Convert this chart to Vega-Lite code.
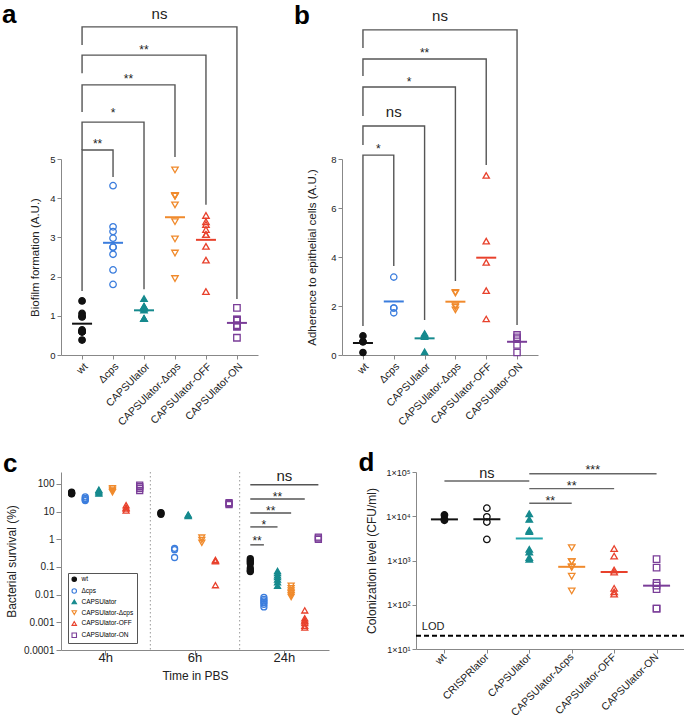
{
"$schema": "https://vega.github.io/schema/vega-lite/v6.json",
"padding": {"left": 2, "top": 1, "right": 0, "bottom": 0},
"config": {
  "font": "Liberation Sans",
  "view": {"stroke": null},
  "axis": {"grid": false, "domainColor": "#888", "tickColor": "#888", "labelColor": "#222", "titleColor": "#222", "titleFontWeight": "normal", "labelFont": "Liberation Sans", "titleFont": "Liberation Sans"},
  "text": {"font": "Liberation Sans"}
},
"datasets": {
  "a_pts": [
    {"g":"wt","v":1.38},{"g":"wt","v":1.06},{"g":"wt","v":0.99},{"g":"wt","v":0.97},{"g":"wt","v":0.64},{"g":"wt","v":0.59},{"g":"wt","v":0.59},{"g":"wt","v":0.59},{"g":"wt","v":0.38},
    {"g":"Δcps","v":4.32},{"g":"Δcps","v":3.27},{"g":"Δcps","v":3.15},{"g":"Δcps","v":2.98},{"g":"Δcps","v":2.75},{"g":"Δcps","v":2.75},{"g":"Δcps","v":2.57},{"g":"Δcps","v":2.17},{"g":"Δcps","v":1.8},
    {"g":"CAPSUlator","v":1.44},{"g":"CAPSUlator","v":1.24},{"g":"CAPSUlator","v":1.24},{"g":"CAPSUlator","v":1.2},{"g":"CAPSUlator","v":1.2},{"g":"CAPSUlator","v":1.15},{"g":"CAPSUlator","v":0.93},{"g":"CAPSUlator","v":0.93},{"g":"CAPSUlator","v":0.93},
    {"g":"CAPSUlator-Δcps","v":4.72},{"g":"CAPSUlator-Δcps","v":4.07},{"g":"CAPSUlator-Δcps","v":4.05},{"g":"CAPSUlator-Δcps","v":4.05},{"g":"CAPSUlator-Δcps","v":3.83},{"g":"CAPSUlator-Δcps","v":3.4},{"g":"CAPSUlator-Δcps","v":2.96},{"g":"CAPSUlator-Δcps","v":2.6},{"g":"CAPSUlator-Δcps","v":1.95},
    {"g":"CAPSUlator-OFF","v":3.56},{"g":"CAPSUlator-OFF","v":3.4},{"g":"CAPSUlator-OFF","v":3.33},{"g":"CAPSUlator-OFF","v":3.2},{"g":"CAPSUlator-OFF","v":3.07},{"g":"CAPSUlator-OFF","v":3.07},{"g":"CAPSUlator-OFF","v":2.77},{"g":"CAPSUlator-OFF","v":2.42},{"g":"CAPSUlator-OFF","v":1.62},
    {"g":"CAPSUlator-ON","v":1.2},{"g":"CAPSUlator-ON","v":0.91},{"g":"CAPSUlator-ON","v":0.9},{"g":"CAPSUlator-ON","v":0.88},{"g":"CAPSUlator-ON","v":0.76},{"g":"CAPSUlator-ON","v":0.74},{"g":"CAPSUlator-ON","v":0.72},{"g":"CAPSUlator-ON","v":0.44}
  ],
  "a_br": [
    {"c":1,"g":"wt","v":1.63,"k":1},{"c":1,"g":"wt","v":5.23,"k":2},{"c":1,"g":"Δcps","v":5.23,"k":3},{"c":1,"g":"Δcps","v":4.54,"k":4},
    {"c":2,"g":"wt","v":5.23,"k":1},{"c":2,"g":"wt","v":5.94,"k":2},{"c":2,"g":"CAPSUlator","v":5.94,"k":3},{"c":2,"g":"CAPSUlator","v":1.68,"k":4},
    {"c":3,"g":"wt","v":6.2,"k":1},{"c":3,"g":"wt","v":6.89,"k":2},{"c":3,"g":"CAPSUlator-Δcps","v":6.89,"k":3},{"c":3,"g":"CAPSUlator-Δcps","v":5.05,"k":4},
    {"c":4,"g":"wt","v":7.19,"k":1},{"c":4,"g":"wt","v":7.65,"k":2},{"c":4,"g":"CAPSUlator-OFF","v":7.65,"k":3},{"c":4,"g":"CAPSUlator-OFF","v":3.83,"k":4},
    {"c":5,"g":"wt","v":7.91,"k":1},{"c":5,"g":"wt","v":8.37,"k":2},{"c":5,"g":"CAPSUlator-ON","v":8.37,"k":3},{"c":5,"g":"CAPSUlator-ON","v":1.43,"k":4}
  ],
  "a_tx_half": [
    {"g":"wt","lab":"**","v":5.46},{"g":"Δcps","lab":"**","v":7.14},{"g":"CAPSUlator","lab":"ns","v":8.7}
  ],
  "a_tx_on": [
    {"g":"Δcps","lab":"*","v":6.25},{"g":"CAPSUlator","lab":"**","v":7.88}
  ],
  "b_pts": [
    {"g":"wt","v":0.78},{"g":"wt","v":0.54},{"g":"wt","v":0.54},{"g":"wt","v":0.1},
    {"g":"Δcps","v":3.18},{"g":"Δcps","v":1.92},{"g":"Δcps","v":1.92},{"g":"Δcps","v":1.72},
    {"g":"CAPSUlator","v":0.88},{"g":"CAPSUlator","v":0.82},{"g":"CAPSUlator","v":0.82},{"g":"CAPSUlator","v":0.75},{"g":"CAPSUlator","v":0.13},
    {"g":"CAPSUlator-Δcps","v":2.56},{"g":"CAPSUlator-Δcps","v":2.52},{"g":"CAPSUlator-Δcps","v":2.01},{"g":"CAPSUlator-Δcps","v":1.95},{"g":"CAPSUlator-Δcps","v":1.84},
    {"g":"CAPSUlator-OFF","v":7.33},{"g":"CAPSUlator-OFF","v":4.65},{"g":"CAPSUlator-OFF","v":3.78},{"g":"CAPSUlator-OFF","v":2.63},{"g":"CAPSUlator-OFF","v":1.47},
    {"g":"CAPSUlator-ON","v":0.82},{"g":"CAPSUlator-ON","v":0.72},{"g":"CAPSUlator-ON","v":0.65},{"g":"CAPSUlator-ON","v":0.41},{"g":"CAPSUlator-ON","v":0.1}
  ],
  "b_br": [
    {"c":1,"g":"wt","v":1.18,"k":1},{"c":1,"g":"wt","v":8.16,"k":2},{"c":1,"g":"Δcps","v":8.16,"k":3},{"c":1,"g":"Δcps","v":3.63,"k":4},
    {"c":2,"g":"wt","v":8.57,"k":1},{"c":2,"g":"wt","v":9.35,"k":2},{"c":2,"g":"CAPSUlator","v":9.35,"k":3},{"c":2,"g":"CAPSUlator","v":1.43,"k":4},
    {"c":3,"g":"wt","v":9.76,"k":1},{"c":3,"g":"wt","v":10.94,"k":2},{"c":3,"g":"CAPSUlator-Δcps","v":10.94,"k":3},{"c":3,"g":"CAPSUlator-Δcps","v":3.02,"k":4},
    {"c":4,"g":"wt","v":11.39,"k":1},{"c":4,"g":"wt","v":12.08,"k":2},{"c":4,"g":"CAPSUlator-OFF","v":12.08,"k":3},{"c":4,"g":"CAPSUlator-OFF","v":7.76,"k":4},
    {"c":5,"g":"wt","v":12.53,"k":1},{"c":5,"g":"wt","v":13.27,"k":2},{"c":5,"g":"CAPSUlator-ON","v":13.27,"k":3},{"c":5,"g":"CAPSUlator-ON","v":1.22,"k":4}
  ],
  "b_tx_half": [
    {"g":"wt","lab":"*","v":8.53},{"g":"Δcps","lab":"*","v":11.27},{"g":"CAPSUlator","lab":"ns","v":13.84}
  ],
  "b_tx_on": [
    {"g":"Δcps","lab":"ns","v":9.92},{"g":"CAPSUlator","lab":"**","v":12.45}
  ],
  "c_pts": [
    {"t":"4h","g":"wt","v":50},{"t":"4h","g":"wt","v":47},{"t":"4h","g":"wt","v":45},{"t":"4h","g":"wt","v":44},
    {"t":"4h","g":"Δcps","v":34},{"t":"4h","g":"Δcps","v":30},{"t":"4h","g":"Δcps","v":27},{"t":"4h","g":"Δcps","v":25},
    {"t":"4h","g":"CAPSUlator","v":62},{"t":"4h","g":"CAPSUlator","v":55},{"t":"4h","g":"CAPSUlator","v":50},{"t":"4h","g":"CAPSUlator","v":45},
    {"t":"4h","g":"CAPSUlator-Δcps","v":70},{"t":"4h","g":"CAPSUlator-Δcps","v":62},{"t":"4h","g":"CAPSUlator-Δcps","v":56},{"t":"4h","g":"CAPSUlator-Δcps","v":50},
    {"t":"4h","g":"CAPSUlator-OFF","v":17},{"t":"4h","g":"CAPSUlator-OFF","v":14},{"t":"4h","g":"CAPSUlator-OFF","v":13},{"t":"4h","g":"CAPSUlator-OFF","v":11},
    {"t":"4h","g":"CAPSUlator-ON","v":90},{"t":"4h","g":"CAPSUlator-ON","v":80},{"t":"4h","g":"CAPSUlator-ON","v":70},{"t":"4h","g":"CAPSUlator-ON","v":58},
    {"t":"6h","g":"wt","v":9.2},{"t":"6h","g":"wt","v":8.6},{"t":"6h","g":"wt","v":8.0},
    {"t":"6h","g":"Δcps","v":0.47},{"t":"6h","g":"Δcps","v":0.42},{"t":"6h","g":"Δcps","v":0.22},
    {"t":"6h","g":"CAPSUlator","v":7.8},{"t":"6h","g":"CAPSUlator","v":7.4},{"t":"6h","g":"CAPSUlator","v":7.0},
    {"t":"6h","g":"CAPSUlator-Δcps","v":1.15},{"t":"6h","g":"CAPSUlator-Δcps","v":0.95},{"t":"6h","g":"CAPSUlator-Δcps","v":0.75},
    {"t":"6h","g":"CAPSUlator-OFF","v":0.18},{"t":"6h","g":"CAPSUlator-OFF","v":0.17},{"t":"6h","g":"CAPSUlator-OFF","v":0.16},{"t":"6h","g":"CAPSUlator-OFF","v":0.022},
    {"t":"6h","g":"CAPSUlator-ON","v":21},{"t":"6h","g":"CAPSUlator-ON","v":19.5},{"t":"6h","g":"CAPSUlator-ON","v":18},
    {"t":"24h","g":"wt","v":0.2},{"t":"24h","g":"wt","v":0.17},{"t":"24h","g":"wt","v":0.15},{"t":"24h","g":"wt","v":0.13},{"t":"24h","g":"wt","v":0.09},{"t":"24h","g":"wt","v":0.075},{"t":"24h","g":"wt","v":0.068},
    {"t":"24h","g":"Δcps","v":0.008},{"t":"24h","g":"Δcps","v":0.0068},{"t":"24h","g":"Δcps","v":0.006},{"t":"24h","g":"Δcps","v":0.0052},{"t":"24h","g":"Δcps","v":0.0045},{"t":"24h","g":"Δcps","v":0.0036},
    {"t":"24h","g":"CAPSUlator","v":0.072},{"t":"24h","g":"CAPSUlator","v":0.06},{"t":"24h","g":"CAPSUlator","v":0.05},{"t":"24h","g":"CAPSUlator","v":0.043},{"t":"24h","g":"CAPSUlator","v":0.035},{"t":"24h","g":"CAPSUlator","v":0.028},{"t":"24h","g":"CAPSUlator","v":0.021},
    {"t":"24h","g":"CAPSUlator-Δcps","v":0.021},{"t":"24h","g":"CAPSUlator-Δcps","v":0.017},{"t":"24h","g":"CAPSUlator-Δcps","v":0.014},{"t":"24h","g":"CAPSUlator-Δcps","v":0.012},{"t":"24h","g":"CAPSUlator-Δcps","v":0.011},{"t":"24h","g":"CAPSUlator-Δcps","v":0.0095},{"t":"24h","g":"CAPSUlator-Δcps","v":0.0082},
    {"t":"24h","g":"CAPSUlator-OFF","v":0.0027},{"t":"24h","g":"CAPSUlator-OFF","v":0.0014},{"t":"24h","g":"CAPSUlator-OFF","v":0.0012},{"t":"24h","g":"CAPSUlator-OFF","v":0.0011},{"t":"24h","g":"CAPSUlator-OFF","v":0.00095},{"t":"24h","g":"CAPSUlator-OFF","v":0.00075},{"t":"24h","g":"CAPSUlator-OFF","v":0.00065},
    {"t":"24h","g":"CAPSUlator-ON","v":1.2},{"t":"24h","g":"CAPSUlator-ON","v":1.1},{"t":"24h","g":"CAPSUlator-ON","v":1.0}
  ],
  "c_sep": [{"t":"4h"},{"t":"6h"}],
  "c_ln": [
    {"c":1,"t":"24h","g":"wt","v":93,"k":1},{"c":1,"t":"24h","g":"CAPSUlator-ON","v":93,"k":2},
    {"c":2,"t":"24h","g":"wt","v":28.5,"k":1},{"c":2,"t":"24h","g":"CAPSUlator-OFF","v":28.5,"k":2},
    {"c":3,"t":"24h","g":"wt","v":8.9,"k":1},{"c":3,"t":"24h","g":"CAPSUlator-Δcps","v":8.9,"k":2},
    {"c":4,"t":"24h","g":"wt","v":2.8,"k":1},{"c":4,"t":"24h","g":"CAPSUlator","v":2.8,"k":2},
    {"c":5,"t":"24h","g":"wt","v":0.63,"k":1},{"c":5,"t":"24h","g":"Δcps","v":0.63,"k":2}
  ],
  "c_tx_half": [
    {"t":"24h","g":"CAPSUlator","lab":"ns","v":193},{"t":"24h","g":"Δcps","lab":"**","v":13.5},{"t":"24h","g":"wt","lab":"**","v":1.14}
  ],
  "c_tx_on": [
    {"t":"24h","g":"CAPSUlator","lab":"**","v":43.2},{"t":"24h","g":"Δcps","lab":"*","v":4.2}
  ],
  "d_pts": [
    {"g":"wt","v":10700},{"g":"wt","v":8500},{"g":"wt","v":8100},
    {"g":"CRISPRlator","v":15200},{"g":"CRISPRlator","v":9700},{"g":"CRISPRlator","v":7400},{"g":"CRISPRlator","v":3000},
    {"g":"CAPSUlator","v":11400},{"g":"CAPSUlator","v":8500},{"g":"CAPSUlator","v":4800},{"g":"CAPSUlator","v":4500},{"g":"CAPSUlator","v":1790},{"g":"CAPSUlator","v":1560},{"g":"CAPSUlator","v":1170},{"g":"CAPSUlator","v":1070},
    {"g":"CAPSUlator-Δcps","v":1950},{"g":"CAPSUlator-Δcps","v":940},{"g":"CAPSUlator-Δcps","v":940},{"g":"CAPSUlator-Δcps","v":720},{"g":"CAPSUlator-Δcps","v":700},{"g":"CAPSUlator-Δcps","v":440},{"g":"CAPSUlator-Δcps","v":205},
    {"g":"CAPSUlator-OFF","v":1860},{"g":"CAPSUlator-OFF","v":1260},{"g":"CAPSUlator-OFF","v":610},{"g":"CAPSUlator-OFF","v":550},{"g":"CAPSUlator-OFF","v":235},{"g":"CAPSUlator-OFF","v":195},{"g":"CAPSUlator-OFF","v":175},
    {"g":"CAPSUlator-ON","v":1070},{"g":"CAPSUlator-ON","v":690},{"g":"CAPSUlator-ON","v":310},{"g":"CAPSUlator-ON","v":270},{"g":"CAPSUlator-ON","v":225},{"g":"CAPSUlator-ON","v":82},{"g":"CAPSUlator-ON","v":82}
  ],
  "d_rl": [
    {"g":"wt","g2":"CAPSUlator","v":62700},
    {"g":"CAPSUlator","g2":"CAPSUlator-ON","v":91500},
    {"g":"CAPSUlator","g2":"CAPSUlator-OFF","v":42000},
    {"g":"CAPSUlator","g2":"CAPSUlator-Δcps","v":19600}
  ],
  "d_tx_on": [
    {"g":"CRISPRlator","lab":"ns","v":90100},{"g":"CAPSUlator-Δcps","lab":"**","v":56400}
  ],
  "d_tx_half": [
    {"g":"CAPSUlator-Δcps","lab":"***","v":130000},{"g":"CAPSUlator","lab":"**","v":25800}
  ]
},
"spacing": 22,
"resolve": {"scale": {"x": "independent", "y": "independent", "color": "independent", "fill": "independent", "stroke": "independent", "shape": "independent"}},
"vconcat": [
 {
  "spacing": 35,
  "resolve": {"scale": {"x": "independent", "y": "independent", "color": "independent", "fill": "independent", "stroke": "independent", "shape": "independent"}},
  "hconcat": [
   {
    "width": 197, "height": 196,
    "encoding": {
      "x": {"field": "g", "type": "nominal", "scale": {"type": "point", "domain": ["wt","Δcps","CAPSUlator","CAPSUlator-Δcps","CAPSUlator-OFF","CAPSUlator-ON"], "padding": 0.68}, "axis": {"title": null, "labelAngle": -45, "labelFontSize": 10.5, "tickSize": 4, "labelPadding": 2}},
      "y": {"field": "v", "type": "quantitative", "scale": {"domain": [0, 5], "nice": false}, "axis": {"values": [0,1,2,3,4,5], "title": "Biofilm formation (A.U.)", "titleFontSize": 11.5, "labelFontSize": 9.5, "tickSize": 4, "titlePadding": 9}}
    },
    "layer": [
      {"data": {"name": "a_br"}, "mark": {"type": "line", "color": "#555", "strokeWidth": 1.4}, "encoding": {"detail": {"field": "c", "type": "nominal"}, "order": {"field": "k", "type": "quantitative"}}},
      {"data": {"name": "a_tx_half"}, "transform": [{"filter": "datum.lab != 'ns'"}], "mark": {"type": "text", "dx": 15.5, "dy": 3.4, "baseline": "middle", "fontSize": 12, "color": "#222"}, "encoding": {"text": {"field": "lab", "type": "nominal"}}},
      {"data": {"name": "a_tx_half"}, "transform": [{"filter": "datum.lab == 'ns'"}], "mark": {"type": "text", "dx": 15.5, "baseline": "middle", "fontSize": 15, "color": "#222"}, "encoding": {"text": {"field": "lab", "type": "nominal"}}},
      {"data": {"name": "a_tx_on"}, "transform": [{"filter": "datum.lab != 'ns'"}], "mark": {"type": "text", "dy": 3.4, "baseline": "middle", "fontSize": 12, "color": "#222"}, "encoding": {"text": {"field": "lab", "type": "nominal"}}},
      {"data": {"values": [{"g": "wt", "v": 8.47, "lab": "a"}]}, "mark": {"type": "text", "align": "left", "baseline": "alphabetic", "dx": -80, "fontSize": 26, "fontWeight": "bold", "color": "#000"}, "encoding": {"text": {"field": "lab", "type": "nominal"}}},
      {"data": {"name": "a_pts"}, "mark": {"type": "point", "size": 42, "strokeWidth": 1.3, "opacity": 1},
       "encoding": {
         "stroke": {"field": "g", "type": "nominal", "scale": {"domain": ["wt","Δcps","CAPSUlator","CAPSUlator-Δcps","CAPSUlator-OFF","CAPSUlator-ON"], "range": ["#111111","#3b7ddd","#168a8e","#f08a2c","#e8412c","#7a3d98"]}, "legend": null},
         "fill": {"field": "g", "type": "nominal", "scale": {"domain": ["wt","Δcps","CAPSUlator","CAPSUlator-Δcps","CAPSUlator-OFF","CAPSUlator-ON"], "range": ["#111111","transparent","#168a8e","transparent","transparent","transparent"]}, "legend": null},
         "shape": {"field": "g", "type": "nominal", "scale": {"domain": ["wt","Δcps","CAPSUlator","CAPSUlator-Δcps","CAPSUlator-OFF","CAPSUlator-ON"], "range": ["circle","circle","triangle-up","triangle-down","triangle-up","square"]}, "legend": null}
       }},
      {"data": {"name": "a_pts"}, "mark": {"type": "tick", "thickness": 2, "size": 20},
       "encoding": {
         "y": {"aggregate": "mean", "field": "v", "type": "quantitative", "title": "Biofilm formation (A.U.)"},
         "color": {"field": "g", "type": "nominal", "scale": {"domain": ["wt","Δcps","CAPSUlator","CAPSUlator-Δcps","CAPSUlator-OFF","CAPSUlator-ON"], "range": ["#111111","#3b7ddd","#168a8e","#f08a2c","#e8412c","#7a3d98"]}, "legend": null}
       }}
    ]
   },
   {
    "width": 196, "height": 196,
    "encoding": {
      "x": {"field": "g", "type": "nominal", "scale": {"type": "point", "domain": ["wt","Δcps","CAPSUlator","CAPSUlator-Δcps","CAPSUlator-OFF","CAPSUlator-ON"], "padding": 0.68}, "axis": {"title": null, "labelAngle": -45, "labelFontSize": 10.5, "tickSize": 4, "labelPadding": 2}},
      "y": {"field": "v", "type": "quantitative", "scale": {"domain": [0, 8], "nice": false}, "axis": {"values": [0,2,4,6,8], "title": "Adherence to epithelial cells (A.U.)", "titleFontSize": 11.5, "labelFontSize": 9.5, "tickSize": 4, "titlePadding": 13}}
    },
    "layer": [
      {"data": {"name": "b_br"}, "mark": {"type": "line", "color": "#555", "strokeWidth": 1.4}, "encoding": {"detail": {"field": "c", "type": "nominal"}, "order": {"field": "k", "type": "quantitative"}}},
      {"data": {"name": "b_tx_half"}, "transform": [{"filter": "datum.lab != 'ns'"}], "mark": {"type": "text", "dx": 15.4, "dy": 3.4, "baseline": "middle", "fontSize": 12, "color": "#222"}, "encoding": {"text": {"field": "lab", "type": "nominal"}}},
      {"data": {"name": "b_tx_half"}, "transform": [{"filter": "datum.lab == 'ns'"}], "mark": {"type": "text", "dx": 15.4, "baseline": "middle", "fontSize": 15, "color": "#222"}, "encoding": {"text": {"field": "lab", "type": "nominal"}}},
      {"data": {"name": "b_tx_on"}, "transform": [{"filter": "datum.lab != 'ns'"}], "mark": {"type": "text", "dy": 3.4, "baseline": "middle", "fontSize": 12, "color": "#222"}, "encoding": {"text": {"field": "lab", "type": "nominal"}}},
      {"data": {"name": "b_tx_on"}, "transform": [{"filter": "datum.lab == 'ns'"}], "mark": {"type": "text", "baseline": "middle", "fontSize": 15, "color": "#222"}, "encoding": {"text": {"field": "lab", "type": "nominal"}}},
      {"data": {"values": [{"g": "wt", "v": 13.49, "lab": "b"}]}, "mark": {"type": "text", "align": "left", "baseline": "alphabetic", "dx": -69, "fontSize": 26, "fontWeight": "bold", "color": "#000"}, "encoding": {"text": {"field": "lab", "type": "nominal"}}},
      {"data": {"name": "b_pts"}, "mark": {"type": "point", "size": 40, "strokeWidth": 1.3, "opacity": 1},
       "encoding": {
         "stroke": {"field": "g", "type": "nominal", "scale": {"domain": ["wt","Δcps","CAPSUlator","CAPSUlator-Δcps","CAPSUlator-OFF","CAPSUlator-ON"], "range": ["#111111","#3b7ddd","#168a8e","#f08a2c","#e8412c","#7a3d98"]}, "legend": null},
         "fill": {"field": "g", "type": "nominal", "scale": {"domain": ["wt","Δcps","CAPSUlator","CAPSUlator-Δcps","CAPSUlator-OFF","CAPSUlator-ON"], "range": ["#111111","transparent","#168a8e","transparent","transparent","transparent"]}, "legend": null},
         "shape": {"field": "g", "type": "nominal", "scale": {"domain": ["wt","Δcps","CAPSUlator","CAPSUlator-Δcps","CAPSUlator-OFF","CAPSUlator-ON"], "range": ["circle","circle","triangle-up","triangle-down","triangle-up","square"]}, "legend": null}
       }},
      {"data": {"name": "b_pts"}, "mark": {"type": "tick", "thickness": 2, "size": 20},
       "encoding": {
         "y": {"aggregate": "mean", "field": "v", "type": "quantitative", "title": "Adherence to epithelial cells (A.U.)"},
         "color": {"field": "g", "type": "nominal", "scale": {"domain": ["wt","Δcps","CAPSUlator","CAPSUlator-Δcps","CAPSUlator-OFF","CAPSUlator-ON"], "range": ["#111111","#3b7ddd","#168a8e","#f08a2c","#e8412c","#7a3d98"]}, "legend": null}
       }}
    ]
   }
  ]
 },
 {
  "spacing": 29,
  "resolve": {"scale": {"x": "independent", "y": "independent", "color": "independent", "fill": "independent", "stroke": "independent", "shape": "independent"}},
  "hconcat": [
   {
    "width": 268, "height": 178,
    "layer": [
      {"data": {"name": "c_sep"}, "mark": {"type": "rule", "strokeDash": [1.5, 2.5], "color": "#999", "strokeWidth": 1},
       "encoding": {"x": {"field": "t", "type": "nominal", "bandPosition": 1, "scale": {"type": "band", "domain": ["4h","6h","24h"], "paddingInner": 0, "paddingOuter": 0}}}},
      {"data": {"name": "c_ln"}, "mark": {"type": "line", "color": "#555", "strokeWidth": 1.4},
       "encoding": {
         "x": {"field": "t", "type": "nominal", "scale": {"type": "band", "domain": ["4h","6h","24h"], "paddingInner": 0, "paddingOuter": 0}},
         "xOffset": {"field": "g", "type": "nominal", "scale": {"type": "point", "domain": ["wt","Δcps","CAPSUlator","CAPSUlator-Δcps","CAPSUlator-OFF","CAPSUlator-ON"], "padding": 0.78}},
         "y": {"field": "v", "type": "quantitative", "scale": {"type": "log", "domain": [0.0001, 270], "nice": false}},
         "detail": {"field": "c", "type": "nominal"}, "order": {"field": "k", "type": "quantitative"}}},
      {"data": {"name": "c_tx_half"}, "transform": [{"filter": "datum.lab != 'ns'"}], "mark": {"type": "text", "dx": 6.8, "dy": 3.4, "baseline": "middle", "fontSize": 12, "color": "#222"},
       "encoding": {
         "x": {"field": "t", "type": "nominal", "scale": {"type": "band", "domain": ["4h","6h","24h"], "paddingInner": 0, "paddingOuter": 0}},
         "xOffset": {"field": "g", "type": "nominal", "scale": {"type": "point", "domain": ["wt","Δcps","CAPSUlator","CAPSUlator-Δcps","CAPSUlator-OFF","CAPSUlator-ON"], "padding": 0.78}},
         "y": {"field": "v", "type": "quantitative", "scale": {"type": "log", "domain": [0.0001, 270], "nice": false}},
         "text": {"field": "lab", "type": "nominal"}}},
      {"data": {"name": "c_tx_half"}, "transform": [{"filter": "datum.lab == 'ns'"}], "mark": {"type": "text", "dx": 6.8, "baseline": "middle", "fontSize": 15, "color": "#222"},
       "encoding": {
         "x": {"field": "t", "type": "nominal", "scale": {"type": "band", "domain": ["4h","6h","24h"], "paddingInner": 0, "paddingOuter": 0}},
         "xOffset": {"field": "g", "type": "nominal", "scale": {"type": "point", "domain": ["wt","Δcps","CAPSUlator","CAPSUlator-Δcps","CAPSUlator-OFF","CAPSUlator-ON"], "padding": 0.78}},
         "y": {"field": "v", "type": "quantitative", "scale": {"type": "log", "domain": [0.0001, 270], "nice": false}},
         "text": {"field": "lab", "type": "nominal"}}},
      {"data": {"name": "c_tx_on"}, "mark": {"type": "text", "dy": 3.4, "baseline": "middle", "fontSize": 12, "color": "#222"},
       "encoding": {
         "x": {"field": "t", "type": "nominal", "scale": {"type": "band", "domain": ["4h","6h","24h"], "paddingInner": 0, "paddingOuter": 0}},
         "xOffset": {"field": "g", "type": "nominal", "scale": {"type": "point", "domain": ["wt","Δcps","CAPSUlator","CAPSUlator-Δcps","CAPSUlator-OFF","CAPSUlator-ON"], "padding": 0.78}},
         "y": {"field": "v", "type": "quantitative", "scale": {"type": "log", "domain": [0.0001, 270], "nice": false}},
         "text": {"field": "lab", "type": "nominal"}}},
      {"data": {"values": [{"t": "4h", "v": 270, "lab": "c"}]}, "mark": {"type": "text", "align": "left", "baseline": "alphabetic", "dx": -102.7, "fontSize": 26, "fontWeight": "bold", "color": "#000"},
       "encoding": {
         "x": {"field": "t", "type": "nominal", "scale": {"type": "band", "domain": ["4h","6h","24h"], "paddingInner": 0, "paddingOuter": 0}},
         "y": {"field": "v", "type": "quantitative", "scale": {"type": "log", "domain": [0.0001, 270], "nice": false}},
         "text": {"field": "lab", "type": "nominal"}}},
      {"data": {"name": "c_pts"}, "mark": {"type": "point", "size": 36, "strokeWidth": 1.3, "opacity": 1},
       "encoding": {
         "x": {"field": "t", "type": "nominal", "scale": {"type": "band", "domain": ["4h","6h","24h"], "paddingInner": 0, "paddingOuter": 0}, "axis": {"title": "Time in PBS", "labelAngle": 0, "labelAlign": "center", "bandPosition": 0.5, "labelFontSize": 13, "titleFontSize": 12, "tickSize": 5, "titlePadding": 6}},
         "xOffset": {"field": "g", "type": "nominal", "scale": {"type": "point", "domain": ["wt","Δcps","CAPSUlator","CAPSUlator-Δcps","CAPSUlator-OFF","CAPSUlator-ON"], "padding": 0.78}},
         "y": {"field": "v", "type": "quantitative", "scale": {"type": "log", "domain": [0.0001, 270], "nice": false}, "axis": {"values": [0.0001,0.001,0.01,0.1,1,10,100], "format": ".4~f", "title": "Bacterial survival (%)", "labelFontSize": 10, "titleFontSize": 12, "tickSize": 5, "titlePadding": 5}},
         "stroke": {"field": "g", "type": "nominal", "scale": {"domain": ["wt","Δcps","CAPSUlator","CAPSUlator-Δcps","CAPSUlator-OFF","CAPSUlator-ON"], "range": ["#111111","#3b7ddd","#168a8e","#f08a2c","#e8412c","#7a3d98"]}, "legend": {"orient": "bottom-left", "offset": 7, "title": null, "strokeColor": "#555", "fillColor": "white", "padding": 3, "labelFontSize": 6.5, "symbolSize": 20, "rowPadding": 1.8, "symbolStrokeWidth": 1.1, "labelLimit": 200, "labelOffset": 4}},
         "fill": {"field": "g", "type": "nominal", "scale": {"domain": ["wt","Δcps","CAPSUlator","CAPSUlator-Δcps","CAPSUlator-OFF","CAPSUlator-ON"], "range": ["#111111","transparent","#168a8e","transparent","transparent","transparent"]}, "legend": {"orient": "bottom-left", "offset": 7, "title": null, "strokeColor": "#555", "fillColor": "white", "padding": 3, "labelFontSize": 6.5, "symbolSize": 20, "rowPadding": 1.8, "symbolStrokeWidth": 1.1, "labelLimit": 200, "labelOffset": 4}},
         "shape": {"field": "g", "type": "nominal", "scale": {"domain": ["wt","Δcps","CAPSUlator","CAPSUlator-Δcps","CAPSUlator-OFF","CAPSUlator-ON"], "range": ["circle","circle","triangle-up","triangle-down","triangle-up","square"]}, "legend": {"orient": "bottom-left", "offset": 7, "title": null, "strokeColor": "#555", "fillColor": "white", "padding": 3, "labelFontSize": 6.5, "symbolSize": 20, "rowPadding": 1.8, "symbolStrokeWidth": 1.1, "labelLimit": 200, "labelOffset": 4}}
       }}
    ]
   },
   {
    "width": 269, "height": 177,
    "layer": [
      {"data": {"name": "d_rl"}, "mark": {"type": "rule", "color": "#666", "strokeWidth": 1.4},
       "encoding": {
         "x": {"field": "g", "type": "nominal", "scale": {"type": "point", "domain": ["wt","CRISPRlator","CAPSUlator","CAPSUlator-Δcps","CAPSUlator-OFF","CAPSUlator-ON"], "padding": 0.67}},
         "x2": {"field": "g2"},
         "y": {"field": "v", "type": "quantitative", "scale": {"type": "log", "domain": [10, 100000], "nice": false}}}},
      {"data": {"values": [{"v": 20}]}, "mark": {"type": "rule", "strokeDash": [5, 3], "strokeWidth": 2, "color": "#000"},
       "encoding": {"y": {"field": "v", "type": "quantitative", "scale": {"type": "log", "domain": [10, 100000], "nice": false}}}},
      {"data": {"values": [{"g": "wt", "v": 31.9, "lab": "LOD"}]}, "mark": {"type": "text", "align": "right", "baseline": "middle", "fontSize": 11, "color": "#222"},
       "encoding": {
         "x": {"field": "g", "type": "nominal", "scale": {"type": "point", "domain": ["wt","CRISPRlator","CAPSUlator","CAPSUlator-Δcps","CAPSUlator-OFF","CAPSUlator-ON"], "padding": 0.67}},
         "y": {"field": "v", "type": "quantitative", "scale": {"type": "log", "domain": [10, 100000], "nice": false}},
         "text": {"field": "lab", "type": "nominal"}}},
      {"data": {"name": "d_tx_on"}, "transform": [{"filter": "datum.lab != 'ns'"}], "mark": {"type": "text", "dy": 3.4, "baseline": "middle", "fontSize": 12.5, "color": "#222"},
       "encoding": {
         "x": {"field": "g", "type": "nominal", "scale": {"type": "point", "domain": ["wt","CRISPRlator","CAPSUlator","CAPSUlator-Δcps","CAPSUlator-OFF","CAPSUlator-ON"], "padding": 0.67}},
         "y": {"field": "v", "type": "quantitative", "scale": {"type": "log", "domain": [10, 100000], "nice": false}},
         "text": {"field": "lab", "type": "nominal"}}},
      {"data": {"name": "d_tx_on"}, "transform": [{"filter": "datum.lab == 'ns'"}], "mark": {"type": "text", "baseline": "middle", "fontSize": 14.5, "color": "#222"},
       "encoding": {
         "x": {"field": "g", "type": "nominal", "scale": {"type": "point", "domain": ["wt","CRISPRlator","CAPSUlator","CAPSUlator-Δcps","CAPSUlator-OFF","CAPSUlator-ON"], "padding": 0.67}},
         "y": {"field": "v", "type": "quantitative", "scale": {"type": "log", "domain": [10, 100000], "nice": false}},
         "text": {"field": "lab", "type": "nominal"}}},
      {"data": {"name": "d_tx_half"}, "mark": {"type": "text", "dx": 21, "dy": 3.4, "baseline": "middle", "fontSize": 12.5, "color": "#222"},
       "encoding": {
         "x": {"field": "g", "type": "nominal", "scale": {"type": "point", "domain": ["wt","CRISPRlator","CAPSUlator","CAPSUlator-Δcps","CAPSUlator-OFF","CAPSUlator-ON"], "padding": 0.67}},
         "y": {"field": "v", "type": "quantitative", "scale": {"type": "log", "domain": [10, 100000], "nice": false}},
         "text": {"field": "lab", "type": "nominal"}}},
      {"data": {"values": [{"g": "wt", "v": 105000, "lab": "d"}]}, "mark": {"type": "text", "align": "left", "baseline": "alphabetic", "dx": -86, "fontSize": 26, "fontWeight": "bold", "color": "#000"},
       "encoding": {
         "x": {"field": "g", "type": "nominal", "scale": {"type": "point", "domain": ["wt","CRISPRlator","CAPSUlator","CAPSUlator-Δcps","CAPSUlator-OFF","CAPSUlator-ON"], "padding": 0.67}},
         "y": {"field": "v", "type": "quantitative", "scale": {"type": "log", "domain": [10, 100000], "nice": false}},
         "text": {"field": "lab", "type": "nominal"}}},
      {"data": {"name": "d_pts"}, "mark": {"type": "point", "size": 42, "strokeWidth": 1.3, "opacity": 1},
       "encoding": {
         "x": {"field": "g", "type": "nominal", "scale": {"type": "point", "domain": ["wt","CRISPRlator","CAPSUlator","CAPSUlator-Δcps","CAPSUlator-OFF","CAPSUlator-ON"], "padding": 0.67}, "axis": {"title": null, "labelAngle": -45, "labelFontSize": 10.5, "tickSize": 4, "labelPadding": 2}},
         "y": {"field": "v", "type": "quantitative", "scale": {"type": "log", "domain": [10, 100000], "nice": false}, "axis": {"values": [10,100,1000,10000,100000], "labelExpr": "datum.value > 50000 ? '1×10⁵' : datum.value > 5000 ? '1×10⁴' : datum.value > 500 ? '1×10³' : datum.value > 50 ? '1×10²' : '1×10¹'", "title": "Colonization level (CFU/ml)", "labelFontSize": 9, "titleFontSize": 12, "tickSize": 4, "titlePadding": 7}},
         "stroke": {"field": "g", "type": "nominal", "scale": {"domain": ["wt","CRISPRlator","CAPSUlator","CAPSUlator-Δcps","CAPSUlator-OFF","CAPSUlator-ON"], "range": ["#111111","#111111","#168a8e","#f08a2c","#e8412c","#7a3d98"]}, "legend": null},
         "fill": {"field": "g", "type": "nominal", "scale": {"domain": ["wt","CRISPRlator","CAPSUlator","CAPSUlator-Δcps","CAPSUlator-OFF","CAPSUlator-ON"], "range": ["#111111","transparent","#168a8e","transparent","transparent","transparent"]}, "legend": null},
         "shape": {"field": "g", "type": "nominal", "scale": {"domain": ["wt","CRISPRlator","CAPSUlator","CAPSUlator-Δcps","CAPSUlator-OFF","CAPSUlator-ON"], "range": ["circle","circle","triangle-up","triangle-down","triangle-up","square"]}, "legend": null}
       }},
      {"data": {"name": "d_pts"}, "mark": {"type": "tick", "thickness": 2, "size": 27},
       "encoding": {
         "x": {"field": "g", "type": "nominal", "scale": {"type": "point", "domain": ["wt","CRISPRlator","CAPSUlator","CAPSUlator-Δcps","CAPSUlator-OFF","CAPSUlator-ON"], "padding": 0.67}},
         "y": {"aggregate": "median", "field": "v", "type": "quantitative", "scale": {"type": "log", "domain": [10, 100000], "nice": false}},
         "color": {"field": "g", "type": "nominal", "scale": {"domain": ["wt","CRISPRlator","CAPSUlator","CAPSUlator-Δcps","CAPSUlator-OFF","CAPSUlator-ON"], "range": ["#111111","#111111","#25a7ad","#f08a2c","#e8412c","#7a3d98"]}, "legend": null}
       }}
    ]
   }
  ]
 }
]
}
